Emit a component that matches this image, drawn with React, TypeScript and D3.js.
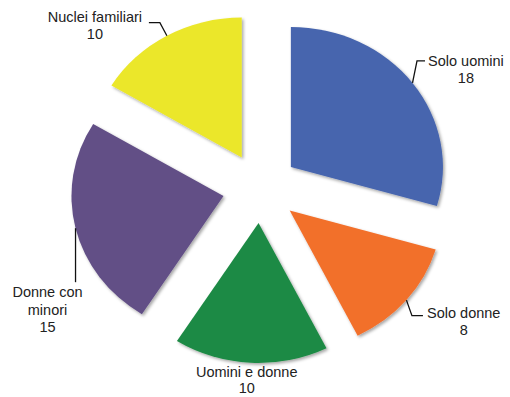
import React from "react";
import * as d3 from "d3";

const categories = ["Solo uomini", "Solo donne", "Uomini e donne", "Donne con minori", "Nuclei familiari"];
const values = [18, 8, 10, 15, 10];
const labelLines = [
  ["Solo uomini", "18"],
  ["Solo donne", "8"],
  ["Uomini e donne", "10"],
  ["Donne con", "minori", "15"],
  ["Nuclei familiari", "10"],
];
const colors = ["#4765ae", "#f26f2b", "#1e8a45", "#624f86", "#ebe72c"];

// label layout (relative to the leader anchor on each slice's outer arc)
const leaderPts: number[][][] = [
  [[4.5, -22], [12.5, -22]],
  [[5.5, 15.5], [16.5, 15.5]],
  [],
  [[0, 54]],
  [[-7, -13], [-18, -13]],
];
const textOffsets = [
  [53.4, -22],
  [57.3, 12.8],
  [-4, 9.5],
  [-28, 64],
  [-72, -19],
];
const lineHeights = [17.5, 17.5, 15.5, 17.5, 17.5];

const W = 510;
const H = 397;
const CX = 260.5;
const CY = 188;
const R = 140;
const SX = 1.086;
const EXPLODE = 35;

export default function App() {
  const data = categories.map((c, i) => ({ cat: c, value: values[i], i }));
  const pie = d3
    .pie<any>()
    .sort(null)
    .value((d: any) => d.value)
    .startAngle(0)
    .endAngle(2 * Math.PI);
  const arcs = pie(data);
  const arc = d3.arc<any>().innerRadius(0).outerRadius(R);

  return (
    <svg
      width={W}
      height={H}
      style={{ position: "absolute", left: 0, top: 0, background: "#fff" }}
      fontFamily="'Liberation Sans', Arial, sans-serif"
    >
      <defs>
        <filter id="sh" x="-20%" y="-20%" width="140%" height="140%">
          <feDropShadow dx="1.5" dy="1.8" stdDeviation="1.4" floodColor="#000" floodOpacity="0.35" />
        </filter>
      </defs>
      <g transform={`translate(${CX},${CY}) scale(${SX},1)`}>
        {arcs.map((a: any, i: number) => {
          const mid = (a.startAngle + a.endAngle) / 2;
          const dx = EXPLODE * Math.sin(mid);
          const dy = -EXPLODE * Math.cos(mid);
          return (
            <path
              key={i}
              d={arc(a) as string}
              transform={`translate(${dx},${dy})`}
              fill={colors[i]}
              filter="url(#sh)"
            />
          );
        })}
      </g>
      {arcs.map((a: any, i: number) => {
        const mid = (a.startAngle + a.endAngle) / 2;
        const ax = CX + SX * (EXPLODE + R) * Math.sin(mid);
        const ay = CY - (EXPLODE + R) * Math.cos(mid);
        const pts = [[ax, ay], ...leaderPts[i].map((p) => [ax + p[0], ay + p[1]])];
        const line = d3.line()(pts as [number, number][]);
        const tx = ax + textOffsets[i][0];
        const ty = ay + textOffsets[i][1];
        return (
          <g key={i}>
            {leaderPts[i].length > 0 && (
              <path d={line as string} fill="none" stroke="#111" strokeWidth={1.3} />
            )}
            <text x={tx} y={ty} textAnchor="middle" fontSize={14.5} fill="#222">
              {labelLines[i].map((l, j) => (
                <tspan key={j} x={tx} y={ty + 5 + j * lineHeights[i]}>
                  {l}
                </tspan>
              ))}
            </text>
          </g>
        );
      })}
    </svg>
  );
}
